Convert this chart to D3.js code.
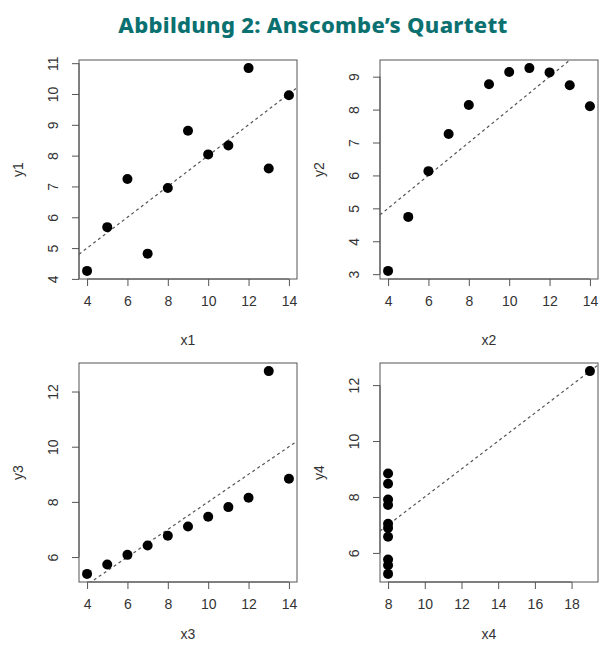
<!DOCTYPE html>
<html>
<head>
<meta charset="utf-8">
<script src="https://cdn.jsdelivr.net/npm/d3@7"></script>
<style>
  body { margin: 0; background: #fff; }
  svg text { font-family: "Liberation Sans", Arial, sans-serif; }
</style>
</head>
<body>
<svg id="chart" width="602" height="645"></svg>
<script>
// Anscombe's quartet
const x123 = [10, 8, 13, 9, 11, 14, 6, 4, 12, 7, 5];
const y1 = [8.04, 6.95, 7.58, 8.81, 8.33, 9.96, 7.24, 4.26, 10.84, 4.82, 5.68];
const y2 = [9.14, 8.14, 8.74, 8.77, 9.26, 8.10, 6.13, 3.10, 9.13, 7.26, 4.74];
const y3 = [7.46, 6.77, 12.74, 7.11, 7.81, 8.84, 6.08, 5.39, 8.15, 6.42, 5.73];
const x4 = [8, 8, 8, 8, 8, 8, 8, 19, 8, 8, 8];
const y4 = [6.58, 5.76, 7.71, 8.84, 8.47, 7.04, 5.25, 12.50, 5.56, 7.91, 6.89];

const xTicks123 = [4, 6, 8, 10, 12, 14];
const xTicks4 = [8, 10, 12, 14, 16, 18];
const yTicks1 = [4, 5, 6, 7, 8, 9, 10, 11];
const yTicks2 = [3, 4, 5, 6, 7, 8, 9];
const yTicks3 = [6, 8, 10, 12];
const yTicks4 = [6, 8, 10, 12];

const title = "Abbildung 2: Anscombe\u2019s Quartett";

const panels = [
  { xs: x123, ys: y1, xt: xTicks123, yt: yTicks1, xl: "x1", yl: "y1", left: 79, top: 60, lab: 66 },
  { xs: x123, ys: y2, xt: xTicks123, yt: yTicks2, xl: "x2", yl: "y2", left: 380, top: 60, lab: 66 },
  { xs: x123, ys: y3, xt: xTicks123, yt: yTicks3, xl: "x3", yl: "y3", left: 79, top: 363, lab: 57 },
  { xs: x4, ys: y4, xt: xTicks4, yt: yTicks4, xl: "x4", yl: "y4", left: 380, top: 363, lab: 57 }
];

const W = 218, H = 219;
const svg = d3.select("#chart");

svg.append("text")
  .attr("x", 313).attr("y", 33)
  .attr("text-anchor", "middle")
  .style("font-family", "'Noto Sans', 'Open Sans', sans-serif")
  .style("font-weight", 800)
  .style("font-size", "22px")
  .style("letter-spacing", "0.3px")
  .attr("fill", "#0b7170")
  .text(title);

// R-style range padding (4%)
function padded(v) {
  const [a, b] = d3.extent(v);
  const p = (b - a) * 0.04;
  return [a - p, b + p];
}

function fit(xs, ys) {
  const mx = d3.mean(xs), my = d3.mean(ys);
  const b = d3.sum(xs, (x, i) => (x - mx) * (ys[i] - my)) / d3.sum(xs, x => (x - mx) ** 2);
  return { a: my - b * mx, b: b };
}

const axisCol = "#555";
const textCol = "#333";
const fmt = d3.format("d");

panels.forEach((p, k) => {
  const g = svg.append("g").attr("transform", `translate(${p.left},${p.top})`);
  const x = d3.scaleLinear().domain(padded(p.xs)).range([0, W]);
  const y = d3.scaleLinear().domain(padded(p.ys)).range([H, 0]);

  // x axis
  const xa = g.append("g").attr("transform", `translate(0,${H})`)
    .call(d3.axisBottom(x).tickValues(p.xt).tickFormat(fmt).tickSizeOuter(0).tickSizeInner(7).tickPadding(10));
  xa.select(".domain").attr("d", `M${x(p.xt[0])},0H${x(p.xt[p.xt.length - 1])}`);
  xa.selectAll("line, .domain").attr("stroke", axisCol);
  xa.selectAll("text").attr("fill", textCol).style("font-size", "14px");

  // y axis
  const ya = g.append("g")
    .call(d3.axisLeft(y).tickValues(p.yt).tickFormat(fmt).tickSizeOuter(0).tickSizeInner(7).tickPadding(0));
  ya.select(".domain").attr("d", `M0,${y(p.yt[0])}V${y(p.yt[p.yt.length - 1])}`);
  ya.selectAll("line, .domain").attr("stroke", axisCol);
  ya.selectAll("text")
    .attr("x", null)
    .attr("text-anchor", "middle")
    .attr("transform", "translate(-26,0) rotate(-90)")
    .attr("dy", "0.35em")
    .attr("fill", textCol).style("font-size", "14px");

  // box
  g.append("rect").attr("width", W).attr("height", H)
    .attr("fill", "none").attr("stroke", axisCol).attr("stroke-width", 1);

  // regression line, clipped to the plot region
  const cid = "clip" + k;
  g.append("clipPath").attr("id", cid).append("rect").attr("width", W).attr("height", H);
  const f = fit(p.xs, p.ys);
  const [d0, d1] = x.domain();
  g.append("line")
    .attr("clip-path", `url(#${cid})`)
    .attr("x1", x(d0)).attr("y1", y(f.a + f.b * d0))
    .attr("x2", x(d1)).attr("y2", y(f.a + f.b * d1))
    .attr("stroke", "#555").attr("stroke-width", 1.2)
    .attr("stroke-dasharray", "3,3");

  g.selectAll("circle").data(p.xs).join("circle")
    .attr("cx", d => x(d))
    .attr("cy", (d, i) => y(p.ys[i]))
    .attr("r", 5)
    .attr("fill", "#000");

  g.append("text")
    .attr("x", W / 2).attr("y", H + p.lab)
    .attr("text-anchor", "middle")
    .attr("fill", textCol).style("font-size", "14px")
    .text(p.xl);

  g.append("text")
    .attr("transform", `translate(-56,${H / 2}) rotate(-90)`)
    .attr("text-anchor", "middle")
    .attr("fill", textCol).style("font-size", "14px")
    .text(p.yl);
});
</script>
</body>
</html>
